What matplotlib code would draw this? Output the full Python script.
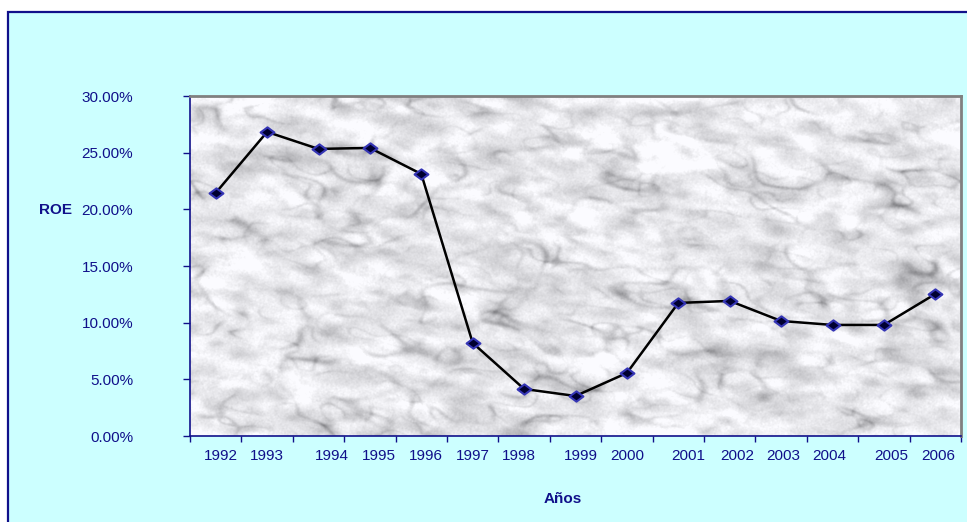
import numpy as np
import matplotlib
matplotlib.use("Agg")
import matplotlib.pyplot as plt
from matplotlib.patches import Rectangle
from matplotlib.path import Path
from matplotlib.ticker import FuncFormatter

plt.rcParams["font.family"] = ["Liberation Sans", "DejaVu Sans"]

# ── Data ──────────────────────────────────────────────────────────────────────
YEARS = ["1992", "1993", "1994", "1995", "1996", "1997", "1998", "1999",
         "2000", "2001", "2002", "2003", "2004", "2005", "2006"]
ROE = [0.2145, 0.2683, 0.2533, 0.2542, 0.2312, 0.0821, 0.0415, 0.0353,
       0.0556, 0.1174, 0.1192, 0.1015, 0.0980, 0.0980, 0.1253]
# where each year label sits along the category axis
YEAR_LABEL_POS = [0.10, 1.00, 2.26, 3.18, 4.09, 5.00, 5.90, 7.10,
                  8.00, 9.20, 10.14, 11.04, 11.93, 13.14, 14.05]
Y_TICKS = [0.0, 0.05, 0.10, 0.15, 0.20, 0.25, 0.30]

NAVY = "#10108a"
BG = "#ccffff"


def marble(h, w, seed=7):
    """Grey marble-like texture: soft streaky blotches plus a vein network."""
    rng = np.random.default_rng(seed)
    fy = np.fft.fftfreq(h)[:, None]
    fx = np.fft.fftfreq(w)[None, :]
    # rotate frequency axes a little so streaks lean diagonally
    a = np.deg2rad(-8)
    u = fx * np.cos(a) - fy * np.sin(a)
    v = fx * np.sin(a) + fy * np.cos(a)

    def smooth(arr, sx, sy):
        filt = np.exp(-((u * sx) ** 2 + (v * sy) ** 2))
        return np.real(np.fft.ifft2(np.fft.fft2(arr) * filt))

    def field(sx, sy):
        f = smooth(rng.standard_normal((h, w)), sx, sy)
        return (f - f.mean()) / f.std()

    base = field(45, 20)
    blotch = field(25, 12)
    veins_a = field(70, 35)
    veins_b = field(40, 20)
    vein = np.exp(-(veins_a / 0.26) ** 2) * 0.6 + np.exp(-(veins_b / 0.22) ** 2) * 0.45
    vein = vein * np.clip(0.5 + 0.5 * field(60, 25), 0.1, 1.4)
    vein = smooth(vein, 4, 3)
    g = 0.93 - 0.045 * base - 0.035 * np.clip(blotch, 0, None) - 0.24 * vein
    g = smooth(g, 2, 2) + 0.012 * field(3, 3)
    g = np.clip(g, 0.5, 0.985)
    return np.dstack([g, g, np.clip(g + 0.015, 0, 1)])


def main():
    fig = plt.figure(figsize=(9.67, 5.22), dpi=100, facecolor="white")

    # chart area box, running off the right and bottom edges
    fig.patches.append(Rectangle((8 / 967, -0.02), 1.0, 510 / 522 + 0.02,
                                 transform=fig.transFigure, facecolor=BG,
                                 edgecolor=NAVY, lw=1.6, zorder=-10))

    ax = fig.add_axes([190 / 967, 1 - 436 / 522, 771 / 967, 340 / 522])
    ax.imshow(marble(340, 771), extent=(0, 1, 0, 1), transform=ax.transAxes,
              aspect="auto", interpolation="bilinear", zorder=0)

    x = np.arange(len(YEARS))
    diamond = Path([(0, 1), (1.35, 0), (0, -1), (-1.35, 0), (0, 1)],
                   [Path.MOVETO, Path.LINETO, Path.LINETO, Path.LINETO, Path.CLOSEPOLY])
    ax.plot(x, ROE, color="black", lw=1.8, zorder=3,
            marker=diamond, markersize=10, markerfacecolor="#000030",
            markeredgecolor="#3535b5", markeredgewidth=1.5)

    ax.set_xlim(-0.5, len(YEARS) - 0.5)
    ax.set_ylim(0, 0.30)

    # y axis
    ax.set_yticks(Y_TICKS)
    ax.yaxis.set_major_formatter(FuncFormatter(lambda v, _: f"{v * 100:.2f}%"))
    ax.tick_params(axis="y", direction="out", length=5, width=1, color=NAVY,
                   labelcolor=NAVY, labelsize=11, pad=36)

    # x axis: tick marks between categories, year labels as minor ticks
    ax.set_xticks(np.arange(-0.5, len(YEARS), 1.0))
    ax.set_xticklabels([])
    ax.set_xticks(YEAR_LABEL_POS, minor=True)
    ax.set_xticklabels(YEARS, minor=True)
    ax.tick_params(axis="x", which="major", direction="out", length=4,
                   width=1, color=NAVY)
    ax.tick_params(axis="x", which="minor", length=0, labelcolor=NAVY,
                   labelsize=11, pad=9)

    for side in ("left", "bottom"):
        ax.spines[side].set_color(NAVY)
        ax.spines[side].set_linewidth(1.2)
    for side in ("top", "right"):
        ax.spines[side].set_color("#808080")
        ax.spines[side].set_linewidth(2)

    fig.text(55 / 967, 1 - 210 / 522, "ROE", color=NAVY, fontsize=11,
             fontweight="bold", ha="center", va="center")
    fig.text(563 / 967, 1 - 499 / 522, "Años", color=NAVY, fontsize=11,
             fontweight="bold", ha="center", va="center")

    fig.savefig("out.png", dpi=100, facecolor=fig.get_facecolor())
    plt.close(fig)


if __name__ == "__main__":
    main()
